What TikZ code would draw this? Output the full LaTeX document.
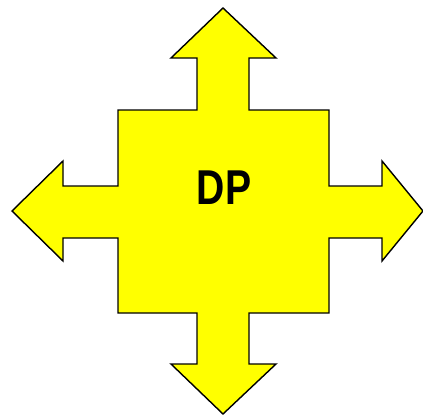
\documentclass[tikz,border=0pt]{standalone}
\usepackage{fontspec}
\setmainfont{Liberation Sans}
\usetikzlibrary{positioning, calc}
\definecolor{dpFill}{HTML}{FFFF00}
\definecolor{dpLine}{HTML}{000000}

\begin{document}
\begin{tikzpicture}[x=0.025cm, y=-0.025cm]
					\useasboundingbox (0,0) rectangle (423,415);
					% four-way arrow
					\draw[draw=dpLine, fill=dpFill, line width=1pt, line join=miter]
					(118,110) -- (197,110) -- (197,58) -- (171,58) -- (223,8) -- (276,58)
					-- (249,58) -- (249,110) -- (329,110) -- (329,186) -- (382,186)
					-- (382,161) -- (423,211) -- (382,261) -- (382,238) -- (329,238)
					-- (329,313) -- (249,313) -- (249,364) -- (276,364) -- (223,414)
					-- (171,364) -- (197,364) -- (197,313) -- (118,313) -- (118,238)
					-- (63,238) -- (63,261) -- (12,211) -- (63,161) -- (63,186)
					-- (118,186) -- cycle;
					\node[inner sep=0pt, xscale=0.8, text=dpLine] (dp) at (224,188)
					{\fontsize{34.8}{40}\selectfont\textbf{DP}};
				\end{tikzpicture}
\end{document}
